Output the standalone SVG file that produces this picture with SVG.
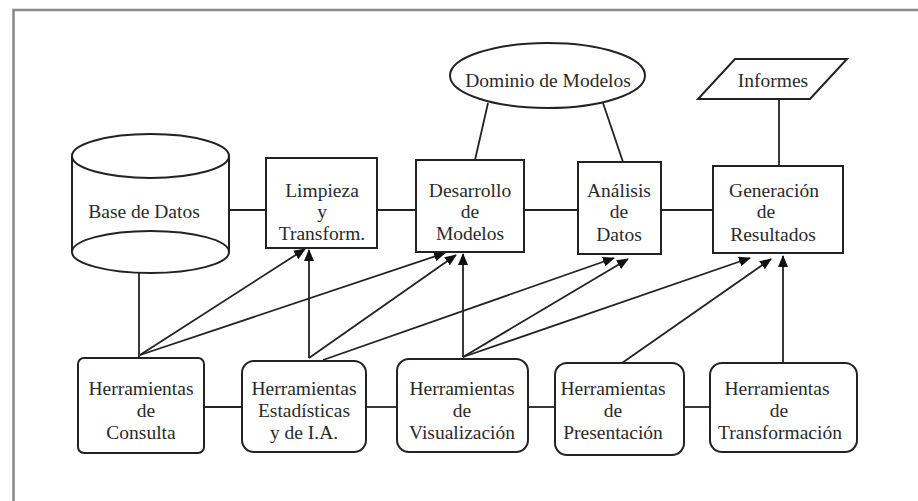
<svg xmlns="http://www.w3.org/2000/svg" width="918" height="501" viewBox="0 0 918 501">
<style>
.shape{fill:#fff;stroke:#222;stroke-width:2}
.ln{stroke:#222;stroke-width:1.8;fill:none}
.ar{stroke:#222;stroke-width:1.8;fill:none;marker-end:url(#ah)}
text{font-family:"Liberation Serif","Times New Roman",serif;font-size:19.5px;fill:#2a2a2a;text-anchor:middle}
</style>
<defs>
<marker id="ah" markerUnits="userSpaceOnUse" viewBox="0 0 12 10" refX="11" refY="5" markerWidth="12" markerHeight="10" orient="auto">
<path d="M0,0 L12,5 L0,10 Z" fill="#111"/>
</marker>
</defs>
<rect x="0" y="0" width="918" height="501" fill="#fff"/>
<rect x="13.5" y="10" width="1000" height="1000" fill="none" stroke="#888" stroke-width="2.5"/>

<g id="connectors">
<line class="ln" x1="228" y1="210" x2="266" y2="210"/>
<line class="ln" x1="377" y1="210" x2="416" y2="210"/>
<line class="ln" x1="524" y1="210" x2="578" y2="210"/>
<line class="ln" x1="661" y1="210" x2="713" y2="210"/>
<line class="ln" x1="488" y1="103" x2="475" y2="160"/>
<line class="ln" x1="603" y1="103" x2="623" y2="162"/>
<line class="ln" x1="779" y1="99" x2="779" y2="166"/>
<line class="ln" x1="139" y1="273" x2="139" y2="358"/>
<line class="ln" x1="204" y1="407" x2="242" y2="407"/>
<line class="ln" x1="366" y1="407" x2="397" y2="407"/>
<line class="ln" x1="528" y1="407" x2="555" y2="407"/>
<line class="ln" x1="684" y1="407" x2="710" y2="407"/>
<line class="ar" x1="140" y1="355" x2="305" y2="249"/>
<line class="ar" x1="140" y1="355" x2="445" y2="253"/>
<line class="ar" x1="309" y1="358" x2="309" y2="250"/>
<line class="ar" x1="309" y1="358" x2="456" y2="255"/>
<line class="ar" x1="323" y1="360" x2="614" y2="258"/>
<line class="ar" x1="463" y1="357" x2="463" y2="254"/>
<line class="ar" x1="463" y1="357" x2="628" y2="259"/>
<line class="ar" x1="463" y1="357" x2="750" y2="258"/>
<line class="ar" x1="622" y1="363" x2="771" y2="259"/>
<line class="ar" x1="783" y1="363" x2="783" y2="256"/>
</g>

<g id="base-datos">
<path class="shape" d="M72,156 L72,252 A78.5,21 0 0 0 229,252 L229,156"/>
<path class="shape" d="M72,252 A78.5,21 0 0 1 229,252" fill="none"/>
<ellipse class="shape" cx="150.5" cy="156" rx="78.5" ry="22"/>
<text x="144" y="218">Base de Datos</text>
</g>

<g id="limpieza">
<rect class="shape" x="266" y="158" width="111" height="90"/>
<text x="322" y="197">Limpieza</text>
<text x="322" y="218">y</text>
<text x="322" y="240">Transform.</text>
</g>

<g id="desarrollo">
<rect class="shape" x="416" y="160" width="108" height="92"/>
<text x="470" y="197">Desarrollo</text>
<text x="470" y="218">de</text>
<text x="470" y="240">Modelos</text>
</g>

<g id="analisis">
<rect class="shape" x="578" y="162" width="83" height="92"/>
<text x="619" y="197">Análisis</text>
<text x="619" y="218">de</text>
<text x="619" y="241">Datos</text>
</g>

<g id="generacion">
<rect class="shape" x="713" y="166" width="130" height="87"/>
<text x="774" y="197">Generación</text>
<text x="766" y="218">de</text>
<text x="773" y="241">Resultados</text>
</g>

<g id="dominio">
<ellipse class="shape" cx="547.5" cy="75.5" rx="97.5" ry="32.5"/>
<text x="548" y="87">Dominio de Modelos</text>
</g>

<g id="informes">
<polygon class="shape" points="735,59 847,59 810,99 698,99"/>
<text x="773" y="87">Informes</text>
</g>

<g id="consulta">
<rect class="shape" x="78" y="358" width="126" height="95" rx="6"/>
<text x="141" y="395">Herramientas</text>
<text x="146" y="417">de</text>
<text x="141" y="439">Consulta</text>
</g>

<g id="estadisticas">
<rect class="shape" x="242" y="361" width="124" height="91" rx="12"/>
<text x="304" y="395">Herramientas</text>
<text x="304" y="417">Estadísticas</text>
<text x="304" y="439">y de I.A.</text>
</g>

<g id="visualizacion">
<rect class="shape" x="397" y="359" width="131" height="93" rx="12"/>
<text x="462" y="395">Herramientas</text>
<text x="462" y="417">de</text>
<text x="462" y="439">Visualización</text>
</g>

<g id="presentacion">
<rect class="shape" x="555" y="363" width="129" height="92" rx="12"/>
<text x="613" y="395">Herramientas</text>
<text x="613" y="417">de</text>
<text x="613" y="439">Presentación</text>
</g>

<g id="transformacion">
<rect class="shape" x="710" y="363" width="147" height="89" rx="12"/>
<text x="777" y="395">Herramientas</text>
<text x="779" y="417">de</text>
<text x="780" y="439">Transformación</text>
</g>
</svg>
